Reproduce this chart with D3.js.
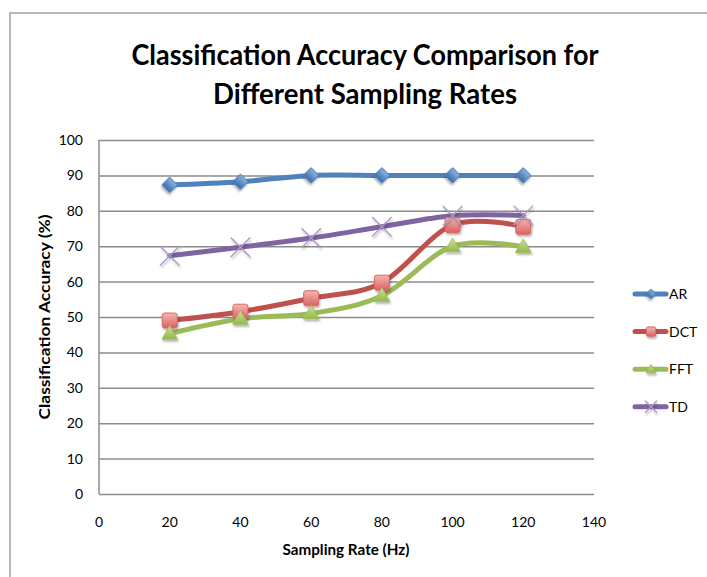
<!DOCTYPE html>
<html>
<head>
<meta charset="utf-8">
<script src="https://cdn.jsdelivr.net/npm/d3@7"></script>
<style>
  html, body { margin: 0; padding: 0; background: #ffffff; }
  svg { display: block; }
</style>
</head>
<body>
<svg id="chart" width="707" height="577"></svg>
<script>
// ---- data ----
const titleLines = ["Classification Accuracy Comparison for", "Different Sampling Rates"];
const xAxisTitle = "Sampling Rate (Hz)";
const yAxisTitle = "Classification Accuracy (%)";
const samplingRates = [20, 40, 60, 80, 100, 120];
const seriesNames = ["AR", "DCT", "FFT", "TD"];
const arValues  = [87.3, 88.2, 90.0, 90.0, 90.0, 90.0];
const dctValues = [49.0, 51.5, 55.3, 59.7, 76.0, 75.5];
const fftValues = [45.3, 49.5, 51.0, 56.0, 70.0, 69.8];
const tdValues  = [67.3, 69.7, 72.3, 75.5, 78.6, 78.7];
const xTicks = [0, 20, 40, 60, 80, 100, 120, 140];
const yTicks = [0, 10, 20, 30, 40, 50, 60, 70, 80, 90, 100];

// ---- styles ----
const FONT = "Lato, 'Open Sans', sans-serif";
const styles = {
  AR:  { line: "#4f81bd", light: "#8db4e2", dark: "#3a6ea8", stroke: "#4f81bd", marker: "diamond" },
  DCT: { line: "#c0504d", light: "#f6b6b3", dark: "#d9625e", stroke: "#d46a67", marker: "square" },
  FFT: { line: "#9bbb59", light: "#cfe59a", dark: "#93b64c", stroke: "#a3c262", marker: "triangle" },
  TD:  { line: "#8064a2", light: "#c0afd6", dark: "#8a70ab", stroke: "#ab98c6", marker: "x" }
};
const seriesValues = { AR: arValues, DCT: dctValues, FFT: fftValues, TD: tdValues };

const svg = d3.select("#chart");
const W = 707, H = 577;

// defs: gradients + shadow
const defs = svg.append("defs");
const shadow = defs.append("filter").attr("id", "shadow")
  .attr("x", "-50%").attr("y", "-50%").attr("width", "200%").attr("height", "200%");
shadow.append("feDropShadow").attr("dx", 1).attr("dy", 2).attr("stdDeviation", 1.2)
  .attr("flood-color", "#000").attr("flood-opacity", 0.3);
seriesNames.forEach(n => {
  const g = defs.append("linearGradient").attr("id", "grad-" + n)
    .attr("x1", 0).attr("y1", 0).attr("x2", 0).attr("y2", 1);
  g.append("stop").attr("offset", "0%").attr("stop-color", styles[n].light);
  g.append("stop").attr("offset", "100%").attr("stop-color", styles[n].dark);
});

// chart border
svg.append("path")
  .attr("d", `M10,${H} L10,13 L${W},13`)
  .attr("fill", "none").attr("stroke", "#a0a0a0").attr("stroke-width", 1.5);

// title
const titleWidths = [467, 304];
titleLines.forEach((t, i) => {
  svg.append("text")
    .attr("x", 365).attr("y", 65 + i * 38.5)
    .attr("text-anchor", "middle")
    .attr("font-family", FONT).attr("font-weight", 700)
    .attr("font-size", 29).attr("fill", "#000")
    .attr("textLength", titleWidths[i]).attr("lengthAdjust", "spacingAndGlyphs")
    .text(t);
});

// scales
const x = d3.scaleLinear().domain([0, 140]).range([99, 594]);
const y = d3.scaleLinear().domain([0, 100]).range([494, 140]);

// gridlines
svg.append("g")
  .attr("transform", `translate(${x(0)},0)`)
  .call(d3.axisLeft(y).tickValues(yTicks).tickSize(-(x(140) - x(0))).tickFormat(""))
  .call(g => g.select(".domain").remove())
  .call(g => g.selectAll("line").attr("stroke", "#8c8c8c").attr("stroke-width", 1.5));

// y axis line and labels
svg.append("line")
  .attr("x1", x(0)).attr("x2", x(0)).attr("y1", y(100)).attr("y2", y(0))
  .attr("stroke", "#8c8c8c").attr("stroke-width", 1.5);
svg.append("g").selectAll("text").data(yTicks).join("text")
  .attr("x", 83).attr("y", d => y(d) + 5)
  .attr("text-anchor", "end")
  .attr("font-family", FONT).attr("font-size", 14).attr("fill", "#000")
  .text(d => d);
// x labels
svg.append("g").selectAll("text").data(xTicks).join("text")
  .attr("x", d => x(d)).attr("y", 527)
  .attr("text-anchor", "middle")
  .attr("font-family", FONT).attr("font-size", 14).attr("fill", "#000")
  .text(d => d);

// axis titles
svg.append("text")
  .attr("x", 346).attr("y", 555)
  .attr("text-anchor", "middle")
  .attr("font-family", FONT).attr("font-weight", 700).attr("font-size", 15)
  .attr("textLength", 127).attr("lengthAdjust", "spacingAndGlyphs")
  .text(xAxisTitle);
svg.append("text")
  .attr("transform", "translate(50,317) rotate(-90)")
  .attr("text-anchor", "middle")
  .attr("font-family", FONT).attr("font-weight", 700).attr("font-size", 15)
  .attr("textLength", 205).attr("lengthAdjust", "spacingAndGlyphs")
  .text(yAxisTitle);

// lines
const line = d3.line()
  .x((d, i) => x(samplingRates[i]))
  .y(d => y(d))
  .curve(d3.curveCardinal.tension(0));

const drawOrder = ["AR", "DCT", "FFT", "TD"];
drawOrder.forEach(n => {
  svg.append("path")
    .datum(seriesValues[n])
    .attr("d", line)
    .attr("fill", "none")
    .attr("stroke", styles[n].line)
    .attr("stroke-width", 5)
    .attr("stroke-linejoin", "round")
    .attr("stroke-linecap", "round");
});

function drawMarker(g, n, cx, cy, scale) {
  const st = styles[n];
  const s = scale;
  if (st.marker === "diamond") {
    g.append("path")
      .attr("d", d3.symbol(d3.symbolSquare, 115 * s * s)())
      .attr("transform", `translate(${cx},${cy}) rotate(45)`)
      .attr("fill", `url(#grad-${n})`).attr("stroke", st.stroke).attr("stroke-width", 1)
      .attr("filter", "url(#shadow)");
  } else if (st.marker === "square") {
    const side = 15 * s;
    g.append("rect")
      .attr("x", cx - side / 2).attr("y", cy - side / 2)
      .attr("width", side).attr("height", side).attr("rx", 2.5 * s)
      .attr("fill", `url(#grad-${n})`).attr("stroke", st.stroke).attr("stroke-width", 1)
      .attr("filter", "url(#shadow)");
  } else if (st.marker === "triangle") {
    g.append("path")
      .attr("d", d3.symbol(d3.symbolTriangle, 105 * s * s)())
      .attr("transform", `translate(${cx},${cy + 1})`)
      .attr("fill", `url(#grad-${n})`).attr("stroke", st.stroke).attr("stroke-width", 1)
      .attr("filter", "url(#shadow)");
  } else if (st.marker === "x") {
    g.append("path")
      .attr("d", d3.symbol(d3.symbolX, 250 * s * s)())
      .attr("transform", `translate(${cx},${cy})`)
      .attr("fill", "none").attr("stroke", st.stroke).attr("stroke-width", 1.3)
      .attr("filter", "url(#shadow)");
  }
}

drawOrder.forEach(n => {
  const g = svg.append("g");
  seriesValues[n].forEach((v, i) => drawMarker(g, n, x(samplingRates[i]), y(v), 1));
});

// legend
const legend = svg.append("g");
seriesNames.forEach((n, i) => {
  const ly = 294 + i * 37.6;
  legend.append("line")
    .attr("x1", 635).attr("x2", 666).attr("y1", ly).attr("y2", ly)
    .attr("stroke", styles[n].line).attr("stroke-width", 5).attr("stroke-linecap", "round");
  drawMarker(legend, n, 651, ly, 0.62);
  legend.append("text")
    .attr("x", 669).attr("y", ly + 5)
    .attr("font-family", FONT).attr("font-size", 14).attr("fill", "#000")
    .text(n);
});
</script>
</body>
</html>
